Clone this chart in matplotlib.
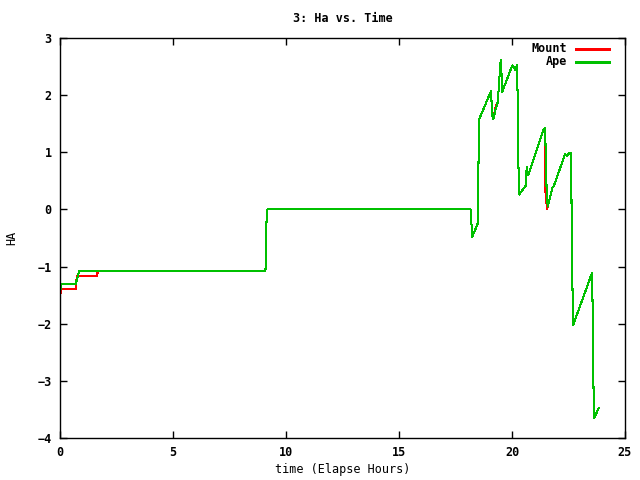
"""HA vs. elapsed time for mount and Ape, gnuplot look."""
import matplotlib
matplotlib.use("Agg")
import matplotlib.pyplot as plt

# Ape (green) trace
ape_t = [0.00, 0.02, 0.05, 0.70, 0.78, 0.85, 9.09, 9.11, 9.13, 9.15, 9.17,
         18.17, 18.24, 18.48, 18.51, 18.56, 19.07, 19.10, 19.13, 19.17, 19.28,
         19.37, 19.40, 19.46, 19.50, 19.53, 19.56, 20.01, 20.16, 20.22, 20.25,
         20.28, 20.32, 20.61, 20.65, 20.72, 21.39, 21.46, 21.49, 21.53, 21.58,
         21.80, 21.85, 22.35, 22.43, 22.54, 22.60, 22.63, 22.67, 22.71, 23.45,
         23.54, 23.57, 23.60, 23.64, 23.83]
ape_ha = [-1.58, -1.40, -1.30, -1.30, -1.18, -1.08, -1.08, -0.80, -0.28, -0.10, 0.00,
          0.00, -0.48, -0.25, 0.68, 1.59, 2.07, 1.85, 1.65, 1.575, 1.76,
          1.88, 2.05, 2.40, 2.61, 2.43, 2.05, 2.52, 2.44, 2.52, 1.97,
          0.83, 0.26, 0.42, 0.74, 0.60, 1.39, 1.43, 1.04, 0.36, 0.05,
          0.39, 0.41, 0.97, 0.93, 0.99, 0.99, 0.245, -1.27, -2.02, -1.21,
          -1.11, -1.76, -3.02, -3.65, -3.48]

# Mount (red) trace: differs at the start and around 21.5 h
mount_t = [0.00, 0.03, 0.70, 0.74, 1.62, 1.68, 9.09, 9.11, 9.13, 9.15, 9.17,
           18.17, 18.24, 18.48, 18.51, 18.56, 19.07, 19.10, 19.13, 19.17, 19.28,
           19.37, 19.40, 19.46, 19.50, 19.53, 19.56, 20.01, 20.16, 20.22, 20.25,
           20.28, 20.32, 20.61, 20.65, 20.72, 21.39, 21.46, 21.47, 21.55, 21.58,
           21.80, 21.85, 22.35, 22.43, 22.54, 22.60, 22.63, 22.67, 22.71, 23.45,
           23.54, 23.57, 23.60, 23.64, 23.83]
mount_ha = [-1.62, -1.40, -1.40, -1.17, -1.17, -1.08, -1.08, -0.80, -0.28, -0.10, 0.00,
            0.00, -0.48, -0.25, 0.68, 1.59, 2.07, 1.85, 1.65, 1.575, 1.80,
            1.88, 2.05, 2.40, 2.61, 2.43, 2.05, 2.52, 2.44, 2.52, 1.97,
            0.83, 0.26, 0.42, 0.74, 0.60, 1.39, 1.43, 0.36, 0.00, 0.05,
            0.39, 0.41, 0.97, 0.93, 0.99, 0.99, 0.245, -1.27, -2.02, -1.21,
            -1.11, -1.76, -3.02, -3.65, -3.48]

X_TICKS = [0, 5, 10, 15, 20, 25]
Y_TICKS = [-4, -3, -2, -1, 0, 1, 2, 3]
RED, GREEN = "#ff0000", "#00c000"
LW = 0.75  # about one pixel at 100 dpi

plt.rcParams["font.family"] = ["DejaVu Sans Mono"]
plt.rcParams["font.weight"] = "bold"
plt.rcParams["font.size"] = 8.5

fig = plt.figure(figsize=(6.4, 4.8), dpi=100)
ax = fig.add_axes([60 / 640, 1 - 438 / 480, 565 / 640, 400 / 480])

# aliased lines, like gnuplot's png terminal (no red/green blending)
ax.plot(mount_t, mount_ha, color=RED, lw=LW, antialiased=False)
ax.plot(ape_t, ape_ha, color=GREEN, lw=LW, antialiased=False)

ax.set_xlim(0, 25)
ax.set_ylim(-4, 3)
ax.set_xticks(X_TICKS)
ax.set_yticks(Y_TICKS)
ax.tick_params(direction="in", length=5, width=1, top=True, right=True, pad=6)
for s in ax.spines.values():
    s.set_linewidth(1)

ax.set_xlabel("time (Elapse Hours)", labelpad=3)
ax.set_ylabel("HA", labelpad=14)
fig.text((60 + 625) / 2 / 640, 1 - 19 / 480, "3: Ha vs. Time",
         ha="center", va="center")

# gnuplot-style key: right-justified labels, sample line to the right
for i, (label, color) in enumerate([("Mount", RED), ("Ape", GREEN)]):
    yk = (438 - 49 - 13 * i) / 400
    ax.text((567 - 60) / 565, yk, label, transform=ax.transAxes,
            ha="right", va="center")
    ax.plot([(576 - 60) / 565, (609 - 60) / 565], [yk, yk], color=color,
            lw=LW, transform=ax.transAxes, clip_on=False, antialiased=False)

fig.savefig("out.png", dpi=100)
